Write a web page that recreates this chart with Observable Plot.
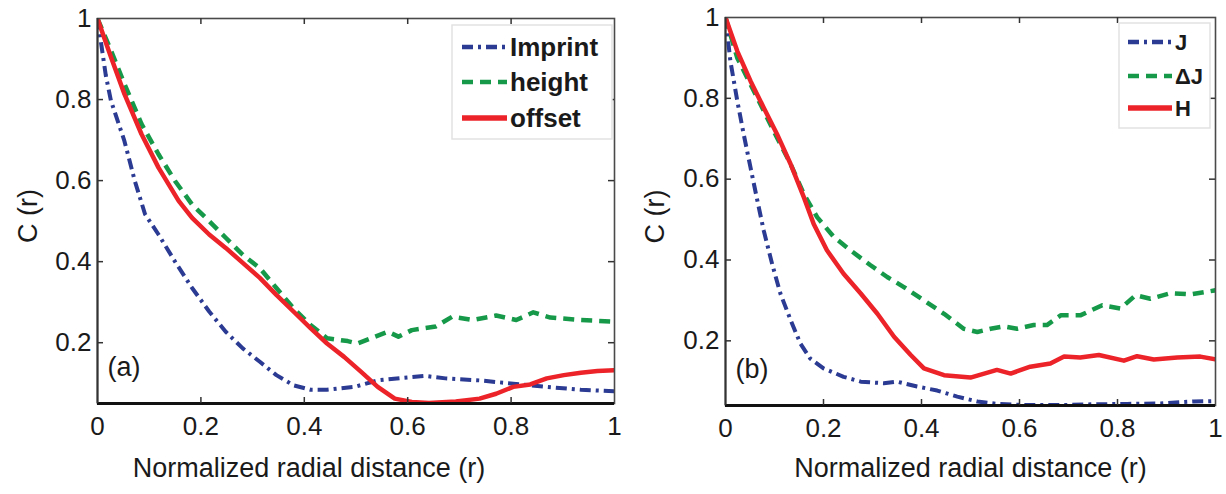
<!DOCTYPE html>
<html>
<head>
<meta charset="utf-8">
<script src="https://cdn.jsdelivr.net/npm/d3@7"></script>
<script src="https://cdn.jsdelivr.net/npm/@observablehq/plot@0.6"></script>
<style>
  html, body { margin: 0; padding: 0; background: #fff; }
  #chart { position: relative; width: 1226px; height: 494px; overflow: hidden; font-family: "Liberation Sans", Arial, sans-serif; }
  #chart > svg { position: absolute; top: 0; }
</style>
</head>
<body>
<div id="chart"></div>
<script>
// ---------- data ----------
const xTicks = [0, 0.2, 0.4, 0.6, 0.8, 1];
const yTicks = [0.2, 0.4, 0.6, 0.8, 1];
const xTitle = "Normalized radial distance (r)";
const yTitle = "C (r)";

// Panel (a)
const labelsA = ["Imprint", "height", "offset"];
const imprintA = [[0,1.0],[0.008,0.93],[0.016,0.86],[0.026,0.797],[0.052,0.698],[0.072,0.6],[0.092,0.517],[0.118,0.467],[0.15,0.40],[0.183,0.335],[0.216,0.277],[0.248,0.227],[0.281,0.186],[0.314,0.153],[0.346,0.12],[0.379,0.095],[0.412,0.084],[0.444,0.084],[0.497,0.091],[0.542,0.107],[0.588,0.113],[0.634,0.118],[0.673,0.112],[0.739,0.107],[0.804,0.099],[0.869,0.091],[0.935,0.084],[1.0,0.08]];
const heightA = [[0,1.0],[0.026,0.921],[0.052,0.839],[0.085,0.74],[0.118,0.665],[0.15,0.599],[0.183,0.541],[0.216,0.5],[0.248,0.459],[0.281,0.417],[0.314,0.384],[0.346,0.335],[0.379,0.285],[0.412,0.244],[0.444,0.211],[0.484,0.204],[0.503,0.198],[0.529,0.211],[0.562,0.227],[0.582,0.215],[0.608,0.231],[0.654,0.24],[0.686,0.264],[0.725,0.256],[0.771,0.267],[0.81,0.256],[0.843,0.275],[0.876,0.262],[0.935,0.256],[1.0,0.252]];
const offsetA = [[0,1.0],[0.026,0.905],[0.052,0.814],[0.085,0.715],[0.118,0.632],[0.157,0.55],[0.183,0.508],[0.216,0.467],[0.248,0.434],[0.281,0.397],[0.314,0.36],[0.346,0.318],[0.379,0.277],[0.412,0.236],[0.444,0.198],[0.477,0.165],[0.51,0.128],[0.542,0.091],[0.575,0.062],[0.608,0.054],[0.641,0.051],[0.693,0.055],[0.739,0.062],[0.771,0.074],[0.804,0.091],[0.837,0.097],[0.869,0.112],[0.902,0.12],[0.935,0.126],[0.967,0.13],[1.0,0.132]];

// Panel (b)
const labelsB = ["J", "\u0394J", "H"];
const jB = [[0,1.0],[0.01,0.892],[0.024,0.794],[0.037,0.712],[0.051,0.629],[0.065,0.547],[0.078,0.473],[0.095,0.391],[0.112,0.317],[0.133,0.251],[0.153,0.193],[0.173,0.156],[0.2,0.132],[0.241,0.111],[0.276,0.099],[0.323,0.095],[0.35,0.099],[0.391,0.087],[0.432,0.077],[0.473,0.062],[0.514,0.05],[0.554,0.044],[0.616,0.041],[0.684,0.041],[0.752,0.043],[0.82,0.044],[0.888,0.045],[0.956,0.05],[1.0,0.051]];
const dJB = [[0,1.0],[0.024,0.9],[0.051,0.835],[0.078,0.769],[0.105,0.703],[0.133,0.637],[0.16,0.563],[0.187,0.506],[0.221,0.457],[0.255,0.424],[0.296,0.387],[0.33,0.358],[0.364,0.333],[0.405,0.3],[0.446,0.267],[0.486,0.23],[0.514,0.222],[0.541,0.23],[0.568,0.236],[0.595,0.23],[0.629,0.239],[0.656,0.239],[0.684,0.263],[0.724,0.263],[0.769,0.288],[0.806,0.28],[0.837,0.313],[0.867,0.304],[0.908,0.318],[0.949,0.315],[1.0,0.325]];
const hB = [[0,1.0],[0.024,0.917],[0.051,0.843],[0.078,0.777],[0.105,0.712],[0.133,0.637],[0.16,0.555],[0.18,0.489],[0.207,0.424],[0.241,0.366],[0.276,0.317],[0.31,0.267],[0.344,0.21],[0.378,0.165],[0.405,0.132],[0.446,0.115],[0.5,0.109],[0.554,0.128],[0.582,0.119],[0.622,0.136],[0.663,0.144],[0.691,0.161],[0.724,0.159],[0.762,0.165],[0.813,0.151],[0.84,0.162],[0.874,0.154],[0.922,0.159],[0.969,0.161],[1.0,0.154]];

// ---------- styles ----------
const COLORS = ["#2b3a92", "#17994a", "#ec2328"];
const DASHES = ["11,5,3,5", "11,7", null];
const WIDTHS = [4, 4.5, 4.5];
const FONT = "'Liberation Sans', Arial, sans-serif";

function panel(cfg) {
  const iw = cfg.width - cfg.ml - cfg.mr;
  const ih = 494 - cfg.mt - cfg.mb;
  const series = cfg.series;
  const marks = [];
  series.forEach((s, i) => {
    marks.push(Plot.line(s, {
      x: d => d[0], y: d => d[1], stroke: COLORS[i], strokeWidth: WIDTHS[i],
      strokeDasharray: DASHES[i] || undefined, strokeLinejoin: "round",
      strokeLinecap: DASHES[i] ? "butt" : "round", clip: true
    }));
  });
  const innerX = xTicks.slice(1, -1);
  const innerY = yTicks.slice(0, -1);
  marks.push(
    Plot.frame({stroke: "#4a4a4a", strokeWidth: 1.6}),
    Plot.ruleY([cfg.ymin], {stroke: "#111", strokeWidth: 3}),
    Plot.ruleX([0], {stroke: "#333", strokeWidth: 2}),
    Plot.tickX(innerX, {x: d => d, insetTop: ih - 6, stroke: "#333", strokeWidth: 1.5}),
    Plot.tickX(innerX, {x: d => d, insetBottom: ih - 6, stroke: "#333", strokeWidth: 1.5}),
    Plot.tickY(innerY, {y: d => d, insetLeft: iw - 6, stroke: "#333", strokeWidth: 1.5}),
    Plot.tickY(innerY, {y: d => d, insetRight: iw - 6, stroke: "#333", strokeWidth: 1.5}),
    Plot.axisX({ticks: xTicks, tickSize: 0, tickPadding: 13, tickFormat: d => String(d), label: null, fill: "#1a1a1a"}),
    Plot.axisY({ticks: yTicks, tickSize: 0, tickPadding: 6, tickFormat: d => String(d), label: null, fill: "#1a1a1a"}),
    Plot.text([xTitle], {text: d => d, frameAnchor: "bottom", dx: cfg.titleDx, dy: cfg.titleDy, fontSize: 27, fill: "#1a1a1a"}),
    Plot.text([yTitle], {text: d => d, frameAnchor: "left", rotate: -90, dx: cfg.yLabelDx, dy: 32, fontSize: 27, fill: "#1a1a1a"}),
    Plot.text([cfg.tag], {text: d => d, frameAnchor: "bottom-left", textAnchor: "start", dx: cfg.tagDx, dy: -28, fontSize: 27, fill: "#1a1a1a"})
  );
  const svg = Plot.plot({
    width: cfg.width, height: 494,
    marginLeft: cfg.ml, marginRight: cfg.mr, marginTop: cfg.mt, marginBottom: cfg.mb,
    x: {domain: [0, 1]},
    y: {domain: [cfg.ymin, 1]},
    style: {fontSize: "26px", fontFamily: FONT, background: "transparent", overflow: "visible"},
    marks
  });
  svg.style.left = cfg.left + "px";
  return svg;
}

const chart = document.getElementById("chart");
chart.appendChild(panel({left: 0, width: 616, ml: 97, mr: 2, mt: 18, mb: 91, ymin: 0.05,
  series: [imprintA, heightA, offsetA], titleDx: -47, titleDy: 73, yLabelDx: -69, tagDx: 10, tag: "(a)"}));
chart.appendChild(panel({left: 613, width: 613, ml: 112, mr: 11, mt: 17, mb: 89, ymin: 0.04,
  series: [jB, dJB, hB], titleDx: 0, titleDy: 71, yLabelDx: -70, tagDx: 10, tag: "(b)"}));

// ---------- legends (overlay) ----------
const overlay = d3.select(chart).append("svg")
  .attr("width", 1226).attr("height", 494).style("left", "0px").style("overflow", "visible");

function legend(box, items, rows, lineX, textX, fontSize) {
  const g = overlay.append("g");
  g.append("rect").attr("x", box[0]).attr("y", box[1]).attr("width", box[2] - box[0]).attr("height", box[3] - box[1])
    .attr("fill", "#fff").attr("stroke", "#e2e2e2").attr("stroke-width", 1.5);
  items.forEach((name, i) => {
    g.append("line").attr("x1", lineX[0]).attr("x2", lineX[1]).attr("y1", rows[i]).attr("y2", rows[i])
      .attr("stroke", COLORS[i]).attr("stroke-width", i === 2 ? 5.5 : 4.5)
      .attr("stroke-dasharray", DASHES[i]);
    g.append("text").attr("x", textX).attr("y", rows[i]).attr("dy", "0.36em")
      .attr("font-family", FONT).attr("font-weight", "bold").attr("font-size", fontSize)
      .attr("fill", "#1a1a1a").text(name);
  });
}
legend([452, 25, 612, 139], labelsA, [47, 82, 118], [462, 507], 510, 26);
legend([1119, 23, 1210, 128], labelsB, [42, 76, 108], [1128, 1172], 1175, 22);
</script>
</body>
</html>
